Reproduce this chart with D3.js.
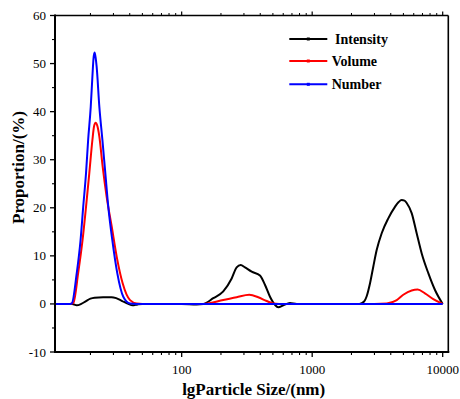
<!DOCTYPE html>
<html><head><meta charset="utf-8">
<script src="https://cdn.jsdelivr.net/npm/d3@7"></script>
<style>
html,body{margin:0;padding:0;background:#fff;}
svg{display:block;}
text{font-family:"Times New Roman","Liberation Serif",serif;fill:#000;}
</style></head>
<body>
<svg id="c" width="460" height="399"></svg>
<script>
// ---- data (size in nm, proportion in %) ----
const intensitySize = [10.7,14.5,15.7,17,18.5,20,21.5,25,29,31.5,35,39,42,46,50,100,130,146.5,174.6,208.3,241.6,263.8,283.3,305.6,343.8,398,434.5,475,519,550,601,676,761,1000,2000,2300,2500,2616,2775,2941,3120,3409,3830,4308,4600,4850,5100,5297,5785,6318,6906,7759,8730,10000];
const intensityVal  = [0,0,-0.3,0,0.6,1.1,1.3,1.4,1.4,1.2,0.6,0,-0.3,-0.1,0,0,-0.1,0,1.2,2.6,5.3,7.6,8.1,7.6,6.7,5.9,4.0,1.5,-0.2,-0.7,-0.3,0.2,0,0,0,0,0.5,1.6,4.3,7.8,11.2,14.7,17.8,20.2,21.2,21.6,21.5,21.0,18.9,14.7,10.5,6.4,2.9,0];
const volumeSize = [10.7,14.0,14.8,16.1,17.4,18.5,19.6,20.7,21.3,21.9,22.6,23.4,24.8,26.6,29.1,31.8,35.3,40.2,45.2,50,146.5,208.3,263.8,329.6,386,448,503,560,3000,3724,4446,4990,5785,6430,7311,8472,10000];
const volumeVal  = [0,0,0.2,6.4,13.3,20.2,27.2,34.1,36.9,37.7,37.0,34.8,28.6,22.3,16.1,9.8,4.3,0.8,0.1,0,0,0.8,1.4,1.9,1.4,0.6,0.1,0,0,0.1,0.8,1.9,2.8,3.0,2.2,1.0,0];
const numberSize = [10.7,14.0,14.4,15.7,16.8,17.6,18.5,19.2,20.1,20.7,21.1,21.5,21.9,22.3,23.4,24.7,26.0,27.4,29.4,32.1,35.7,40.2,45,100,1000,10000];
const numberVal  = [0,0,0.1,6.4,13.3,20.2,27.2,34.1,41.0,47.3,51.0,52.3,51.3,49.4,41.0,34.1,27.2,20.2,13.3,6.4,1.5,0.1,0,0,0,0];
const seriesNames = ["Intensity","Volume","Number"];
const seriesColors = ["#000000","#ff0000","#0000ff"];
const xMajorTicks = [100,1000,10000];
const yTicks = [-10,0,10,20,30,40,50,60];
const xTitle = "lgParticle Size/(nm)";
const yTitle = "Proportion/(%)";

// ---- layout ----
const L=55, R=448.3, T=15.5, B=352;
const svg = d3.select("#c");
const x = d3.scaleLog().domain([10.7,11040]).range([L,R]);
const y = d3.scaleLinear().domain([-10,60]).range([B,T]);

const xMinor=[];
[10,100,1000].forEach(d=>{for(let k=2;k<=9;k++){const v=d*k; if(v<=11040) xMinor.push(v);}});
const yMinor = d3.range(-5,60,10);

// ---- lines ----
const line = d3.line().x(d=>x(d[0])).y(d=>y(d[1])).curve(d3.curveMonotoneX);
const series = [
  d3.zip(intensitySize,intensityVal),
  d3.zip(volumeSize,volumeVal),
  d3.zip(numberSize,numberVal)
];
series.forEach((s,i)=>{
  svg.append("path").attr("d",line(s)).attr("fill","none")
    .attr("stroke",seriesColors[i]).attr("stroke-width",2).attr("stroke-linejoin","round");
});
// ---- axes frame ----
const g = svg.append("g").attr("stroke","#000").attr("fill","none");
g.append("line").attr("x1",L).attr("x2",L).attr("y1",T-1).attr("y2",B+1).attr("stroke-width",2);
g.append("line").attr("x1",L-1).attr("x2",R+1).attr("y1",B).attr("y2",B).attr("stroke-width",2);
g.append("line").attr("x1",L).attr("x2",R).attr("y1",T).attr("y2",T).attr("stroke-width",1.6);
g.append("line").attr("x1",R).attr("x2",R).attr("y1",T).attr("y2",B).attr("stroke-width",1.6);

xMajorTicks.forEach(v=>{
  g.append("line").attr("x1",x(v)).attr("x2",x(v)).attr("y1",B).attr("y2",B+5).attr("stroke-width",1.3);
  g.append("line").attr("x1",x(v)).attr("x2",x(v)).attr("y1",T).attr("y2",T-4).attr("stroke-width",1.2);
});
xMinor.filter(v=>!xMajorTicks.includes(v)).forEach(v=>{
  g.append("line").attr("x1",x(v)).attr("x2",x(v)).attr("y1",B).attr("y2",B+3).attr("stroke-width",1.1);
  g.append("line").attr("x1",x(v)).attr("x2",x(v)).attr("y1",T).attr("y2",T-2.5).attr("stroke-width",1);
});
yTicks.forEach(v=>{
  g.append("line").attr("x1",L).attr("x2",L-5).attr("y1",y(v)).attr("y2",y(v)).attr("stroke-width",1.3);
});
yMinor.forEach(v=>{
  g.append("line").attr("x1",L).attr("x2",L-3).attr("y1",y(v)).attr("y2",y(v)).attr("stroke-width",1.1);
});

svg.append("g").selectAll("text").data(xMajorTicks).join("text")
  .attr("x",d=>x(d)).attr("y",373.5).attr("text-anchor","middle")
  .style("font-size","13px").text(d=>d);
svg.append("g").selectAll("text").data(yTicks).join("text")
  .attr("x",46).attr("y",d=>y(d)+4.5).attr("text-anchor","end")
  .style("font-size","13px").text(d=>d);

svg.append("text").attr("x",(L+R)/2+2).attr("y",395).attr("text-anchor","middle")
  .style("font-size","17px").style("font-weight","bold").text(xTitle);
svg.append("text").attr("transform","translate(23.5,167.5) rotate(-90)").attr("text-anchor","middle")
  .style("font-size","17px").style("font-weight","bold").text(yTitle);

const legY=[39,61,84.3], legTX=[335,331.7,331.7];
seriesNames.forEach((n,i)=>{
  svg.append("line").attr("x1",289.3).attr("x2",327.3).attr("y1",legY[i]).attr("y2",legY[i])
    .attr("stroke",seriesColors[i]).attr("stroke-width",2);
  svg.append("rect").attr("x",306.8).attr("y",legY[i]-1.5).attr("width",3).attr("height",3).attr("fill",seriesColors[i]);
  svg.append("text").attr("x",legTX[i]).attr("y",legY[i]+5).style("font-size","14px")
    .style("font-weight","bold").text(n);
});
</script>
</body></html>
